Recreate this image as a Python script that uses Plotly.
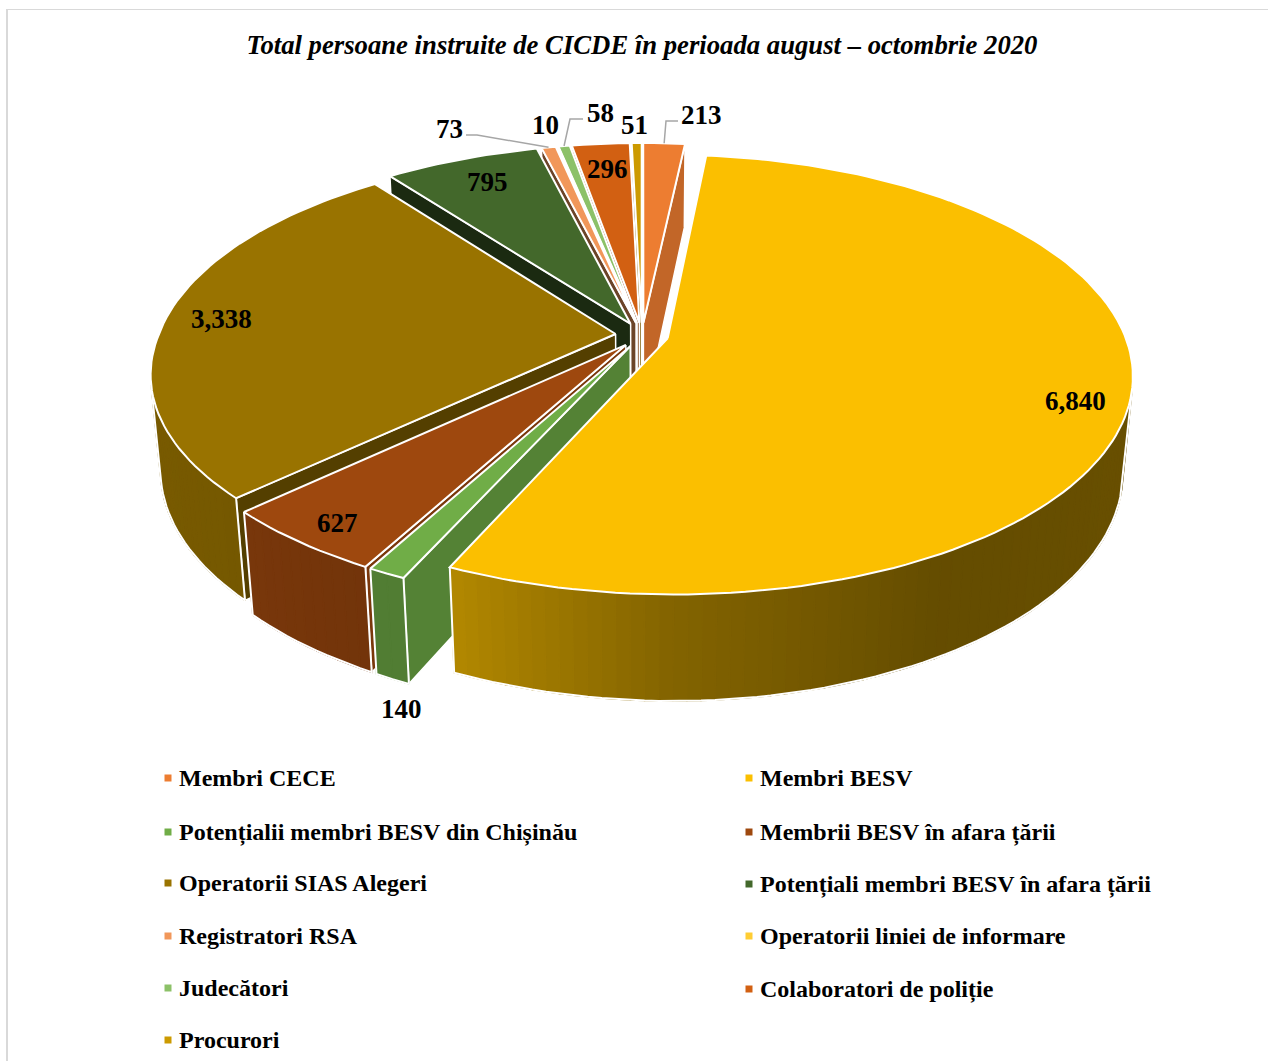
import math
import plotly.graph_objects as go

# ---------- data ----------
categories = ["Membri CECE", "Membri BESV", "Potențialii membri BESV din Chișinău",
              "Membrii BESV în afara țării", "Operatorii SIAS Alegeri",
              "Potențiali membri BESV în afara țării", "Registratori RSA",
              "Operatorii liniei de informare", "Judecători",
              "Colaboratori de poliție", "Procurori"]
values = [213, 6840, 140, 627, 3338, 795, 73, 10, 58, 296, 51]
colors = ["#ED7D31", "#FBBF00", "#70AD47", "#9E480E", "#997300", "#43682B",
          "#F1975A", "#FFCD33", "#8CC168", "#D26012", "#CC9A00"]
title_text = "Total persoane instruite de CICDE în perioada august – octombrie 2020"

# ---------- style / layout ----------
W, H_PAGE = 1268, 1061
FONT = "Liberation Serif"
CX, CY, R, RY, K, M, DEPTH = 642, 335, 457, 213, 0.1645, 0.02, 96
EXPLODE = 0.058
WARP_X, WARP_Y = 7, 3
FACE_SHADE = [0.82, 0.6, 0.75, 0.77, 0.55, 0.4, 0.45, 0.5, 0.6, 0.6, 0.6]
DRAW_ORDER = [0, 10, 9, 8, 7, 6, 5, 4, 3, 2, 1]
RIM_T = [60, 100, 150, 180, 205, 230, 270, 300]
RIM_S = [0.42, 0.42, 0.40, 0.52, 0.72, 0.77, 0.80, 0.8]
LABEL_POS = [(701, 115), (1075, 401), (401, 709), (337, 523), (221, 319), (487, 182),
             (449, 129), (545, 125), (600, 113), (607, 169), (634, 125)]
LEADERS = {6: [(466, 135), (477, 135)], 8: [(583, 119), (570, 119)], 0: [(678, 121), (666, 121)]}
LEGEND_COL_X = [168, 749]
LEGEND_ROW_Y = [[778, 832, 883, 936, 988, 1040], [778, 832, 884, 936, 989]]


def proj(u, v, z):
    den = 1 - K * v + M * z
    warp = max(-u, 0) * max(v, 0)
    return CX + R * u / den - WARP_X * warp, CY + (RY * v + DEPTH * z) / den - WARP_Y * warp


def shade(hex_c, f):
    r, g, b = (int(hex_c[i:i + 2], 16) for i in (1, 3, 5))
    return f"rgb({round(r * f)},{round(g * f)},{round(b * f)})"


def interp(t, xs, ys):
    t = max(xs[0], min(xs[-1], t))
    for a, b, p, q in zip(xs, xs[1:], ys, ys[1:]):
        if t <= b:
            return p + (q - p) * (t - a) / (b - a)
    return ys[-1]


def area(pts):
    return sum(a[0] * b[1] - b[0] * a[1] for a, b in zip(pts, pts[1:] + pts[:1]))


fig = go.Figure()


def poly(pts, fill, line=None, width=1.4):
    fig.add_trace(go.Scatter(x=[p[0] for p in pts] + [pts[0][0]], y=[p[1] for p in pts] + [pts[0][1]],
                             mode="lines", fill="toself", fillcolor=fill,
                             line=dict(color=line or fill, width=width),
                             hoverinfo="skip", showlegend=False))


def path(pts, color="white", width=2):
    fig.add_trace(go.Scatter(x=[p[0] for p in pts], y=[p[1] for p in pts], mode="lines",
                             line=dict(color=color, width=width), hoverinfo="skip", showlegend=False))


total = sum(values)
starts, acc = [], 0.0
for val in values:
    starts.append(acc)
    acc += val / total * 360


def disc(i, theta, rho=1.0):
    span = values[i] / total * 360
    mid = math.radians(starts[i] + span / 2)
    t = math.radians(theta)
    return EXPLODE * math.sin(mid) + rho * math.sin(t), -EXPLODE * math.cos(mid) - rho * math.cos(t)


for i in DRAW_ORDER:
    a0 = starts[i]
    a1 = a0 + values[i] / total * 360
    n = max(1, int((a1 - a0) / 1.5))
    angles = [a0 + (a1 - a0) * j / n for j in range(n + 1)]
    apex = disc(i, a0, 0)
    top = [proj(*disc(i, t), 0) for t in angles]
    bot = [proj(*disc(i, t), 1) for t in angles]
    at, ab = proj(*apex, 0), proj(*apex, 1)
    # radial faces
    f0 = [at, top[0], bot[0], ab]
    if area(f0) < 0:
        poly(f0, shade(colors[i], FACE_SHADE[i]), "white", 1.5)
    f1 = [at, top[-1], bot[-1], ab]
    if area(f1) > 0:
        poly(f1, shade(colors[i], FACE_SHADE[i]), "white", 1.5)
    # outer wall
    vis = []
    for j in range(n):
        band = [top[j], top[j + 1], bot[j + 1], bot[j]]
        if area(band) < 0:
            vis.append(j)
            poly(band, shade(colors[i], interp((angles[j] + angles[j + 1]) / 2, RIM_T, RIM_S)))
    if vis:
        idx = vis + [vis[-1] + 1]
        path([top[idx[0]]] + [bot[j] for j in idx] + [top[idx[-1]]])
    # top face
    poly([at] + top, colors[i], "white", 2)

# data labels
for (x, y), val in zip(LABEL_POS, values):
    fig.add_annotation(x=x, y=y, text=f"<b>{val:,}</b>", showarrow=False, xanchor="center", yanchor="middle",
                       font=dict(family=FONT, size=27, color="black"))

# leader lines
for i, pts in LEADERS.items():
    mid = starts[i] + values[i] / total * 180
    path(pts + [proj(*disc(i, mid), 0)], "#A6A6A6", 1.5)

# legend
for n, (name, col) in enumerate(zip(categories, colors)):
    c = n % 2
    x, y = LEGEND_COL_X[c], LEGEND_ROW_Y[c][n // 2]
    fig.add_trace(go.Scatter(x=[x], y=[y], mode="markers", name=name,
                             marker=dict(symbol="square", size=7, color=col),
                             hoverinfo="name", showlegend=False))
    fig.add_annotation(x=x + 9, y=y, text=f"<b>{name}</b>", showarrow=False, xanchor="left", yanchor="middle",
                       font=dict(family=FONT, size=24, color="black"))

fig.update_layout(
    width=W, height=H_PAGE, margin=dict(l=0, r=0, t=0, b=0),
    paper_bgcolor="white", plot_bgcolor="white", showlegend=False,
    title=dict(text=f"<b><i>{title_text}</i></b>", x=642 / W, xanchor="center", y=1 - 45 / H_PAGE, yanchor="middle",
               font=dict(family=FONT, size=26.7, color="black")),
    xaxis=dict(range=[0, W], visible=False, fixedrange=True),
    yaxis=dict(range=[H_PAGE, 0], visible=False, fixedrange=True),
    shapes=[
        dict(type="line", x0=7, x1=7, y0=9, y1=H_PAGE, line=dict(color="#D9D9D9", width=2)),
        dict(type="line", x0=6, x1=W, y0=9.5, y1=9.5, line=dict(color="#D9D9D9", width=1)),
    ],
)
fig.write_html("out.html", config=dict(displayModeBar=False),
               post_script="document.body.style.margin='0';document.body.style.overflow='hidden';")
